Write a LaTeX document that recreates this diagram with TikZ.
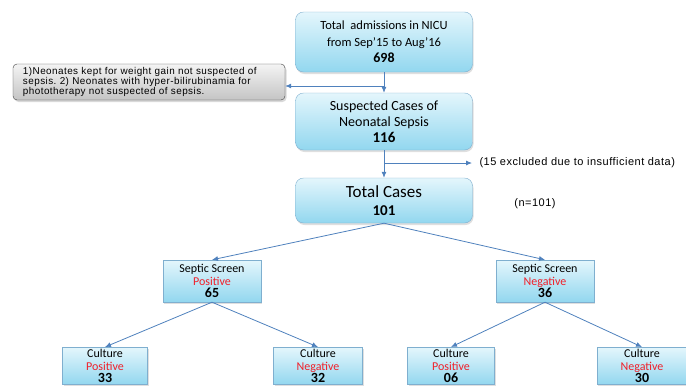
\documentclass[tikz,border=0pt]{standalone}
\usepackage{fontspec}
\setmainfont{Carlito}
\newfontfamily\widefont[LetterSpace=4.5]{Liberation Sans}
\usepackage{xcolor}
\definecolor{boxtop}{HTML}{E4F6FC}
\definecolor{boxbot}{HTML}{92D7EF}
\definecolor{boxline}{HTML}{7FAFCF}
\definecolor{flow}{HTML}{4F81BD}
\definecolor{posred}{HTML}{F0202A}
\definecolor{notetop}{HTML}{F4F4F4}
\definecolor{notebot}{HTML}{C4C4C4}
\usetikzlibrary{positioning,arrows.meta,shadows}
\newcommand{\hl}[1]{{\color{posred}#1}}
\newcommand{\num}[1]{{\fontsize{14}{13}\selectfont\bfseries #1}}
\frenchspacing

\begin{document}
\begin{tikzpicture}[
  x=1pt, y=-1pt,
  stage/.style={draw=boxline, rounded corners=8pt, top color=boxtop, bottom color=boxbot,
                align=center, inner sep=2pt, minimum width=177pt,
                drop shadow={opacity=0.25, shadow xshift=1pt, shadow yshift=-2pt}},
  split/.style={draw=boxline, top color=boxtop, bottom color=boxbot, align=center,
                inner xsep=2pt, inner ysep=2pt, font=\fontsize{12}{12.5}\selectfont,
                drop shadow={opacity=0.25, shadow xshift=1pt, shadow yshift=-1.5pt}},
  note/.style={draw=black!75, rounded corners=4pt, top color=notetop, bottom color=notebot,
               align=left, inner xsep=10pt, inner ysep=3pt, text width=252pt,
               font=\widefont\fontsize{9.9}{10}\selectfont,
               drop shadow={opacity=0.3, shadow xshift=1.5pt, shadow yshift=-2pt}},
  aside/.style={font=\widefont\fontsize{11}{12}\selectfont},
  link/.style={-{Latex[length=6pt,width=5pt]}, flow, thick}
]
  \useasboundingbox (0,0) rectangle (686,386);

  \node[stage, minimum height=60pt, font=\fontsize{12.5}{16.5}\selectfont] (adm) at (384,42)
        {Total \ admissions in NICU\\ from Sep'15 to Aug'16\\ {\fontsize{14}{16}\selectfont\bfseries 698}};
  \node[note, minimum height=36pt] (excl) at (149,82)
        {1)Neonates kept for weight gain not suspected of\\ sepsis. 2) Neonates with hyper-bilirubinamia for\\ phototherapy not suspected of sepsis.};
  \node[stage, minimum height=57pt, font=\fontsize{14}{16}\selectfont] (susp) at (384,121.5)
        {Suspected Cases of\\ Neonatal Sepsis\\ {\fontsize{15}{18}\selectfont\bfseries 116}};
  \node[stage, minimum height=45pt, font=\fontsize{17}{18}\selectfont] (total) at (384,200.5)
        {Total Cases\\ {\fontsize{15}{18}\selectfont\bfseries 101}};
  \node[aside] (nval) at (535,204) {(n=101)};

  \node[split, minimum width=98pt, minimum height=42pt] (sspos) at (212,281)
        {Septic Screen\\ \hl{Positive}\\ \num{65}};
  \node[split, minimum width=98pt, minimum height=42pt] (ssneg) at (545,281)
        {Septic Screen\\ \hl{Negative}\\ \num{36}};

  \node[split, minimum width=85pt, anchor=north] (cpos1) at (105,347)
        {Culture\\ \hl{Positive}\\ \num{33}};
  \node[split, minimum width=89pt, anchor=north] (cneg1) at (318,347)
        {Culture\\ \hl{Negative}\\ \num{32}};
  \node[split, minimum width=87pt, anchor=north] (cpos2) at (451,347)
        {Culture\\ \hl{Positive}\\ \num{06}};
  \node[split, minimum width=90pt, anchor=north] (cneg2) at (642,347)
        {Culture\\ \hl{Negative}\\ \num{30}};

  % side branches
  \coordinate (jn1) at (384,86);
  \coordinate (jn2) at (384,163);
  \coordinate (out2) at (472,163);
  \node[aside, anchor=west] (drop) at (476,163)
        {(15 excluded due to insufficient data)};

  \draw[link] (adm) -- (susp);
  \draw[link] (jn1) -- (excl.east |- jn1);
  \draw[link] (susp) -- (total);
  \draw[link] (jn2) -- (out2);
  \draw[link] (total.south) -- (sspos.north);
  \draw[link] (total.south) -- (ssneg.north);
  \draw[link] (sspos.south) -- (cpos1.north);
  \draw[link] (sspos.south) -- (cneg1.north);
  \draw[link] (ssneg.south) -- (cpos2.north);
  \draw[link] (ssneg.south) -- (cneg2.north);
\end{tikzpicture}
\end{document}
